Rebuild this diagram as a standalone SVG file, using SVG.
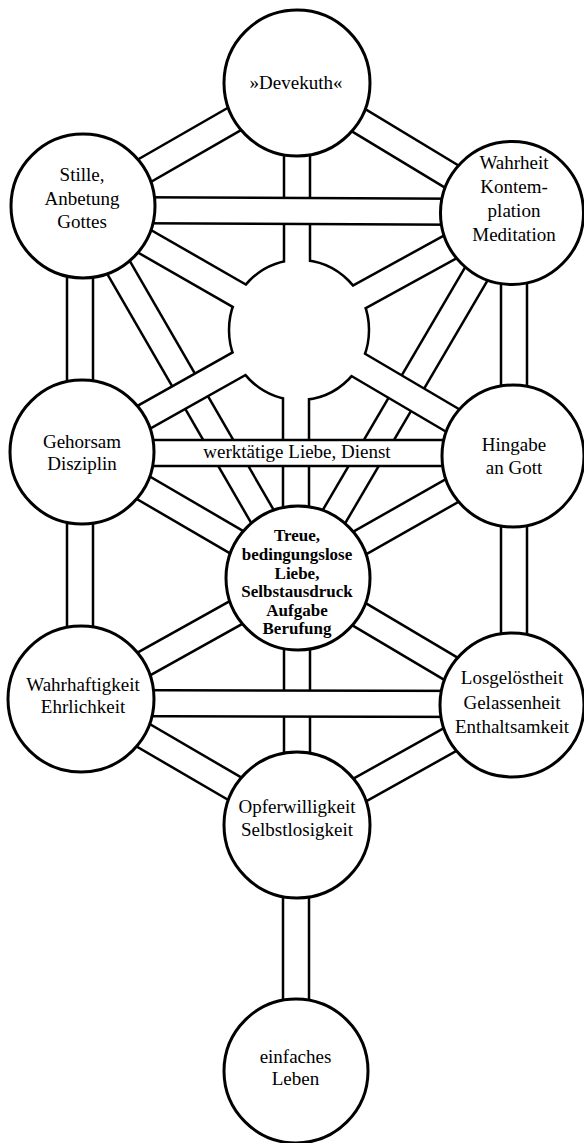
<svg xmlns="http://www.w3.org/2000/svg" xmlns:xlink="http://www.w3.org/1999/xlink" width="584" height="1143" viewBox="0 0 584 1143">
<style>
.rb{stroke:#000;stroke-width:28.5;fill:none}
.rw{stroke:#fff;stroke-width:23.5;fill:none}
.node{fill:#fff;stroke:#000;stroke-width:3}
.hole{fill:#fff;stroke:#000;stroke-width:2.5}
.t{font-family:"Liberation Serif","Times New Roman",serif;font-size:19px;text-anchor:middle;fill:#000}
.tb{font-family:"Liberation Serif","Times New Roman",serif;font-size:17px;font-weight:bold;text-anchor:middle;fill:#000}
</style>
<defs>
<line id="p1" x1="297" y1="83" x2="83" y2="206"/>
<line id="p2" x1="297" y1="83" x2="512" y2="213"/>
<line id="p3" x1="297" y1="83" x2="297" y2="330"/>
<line id="p4" x1="83" y1="210" x2="512" y2="212"/>
<line id="p5" x1="83" y1="206" x2="299" y2="330"/>
<line id="p6" x1="512" y1="213" x2="299" y2="330"/>
<line id="p7" x1="80" y1="206" x2="80" y2="452"/>
<line id="p8" x1="514" y1="213" x2="514" y2="456"/>
<line id="p9" x1="83" y1="206" x2="298" y2="578"/>
<line id="p10" x1="512" y1="213" x2="298" y2="578"/>
<line id="p11" x1="82" y1="452" x2="299" y2="330"/>
<line id="p12" x1="513" y1="456" x2="299" y2="330"/>
<line id="p13" x1="82" y1="453" x2="513" y2="453"/>
<line id="p14" x1="296" y1="330" x2="296" y2="578"/>
<line id="p15" x1="82" y1="452" x2="298" y2="578"/>
<line id="p16" x1="513" y1="456" x2="298" y2="578"/>
<line id="p17" x1="80" y1="452" x2="80" y2="699"/>
<line id="p18" x1="514" y1="456" x2="514" y2="705"/>
<line id="p19" x1="298" y1="578" x2="81" y2="699"/>
<line id="p20" x1="298" y1="578" x2="512" y2="705"/>
<line id="p21" x1="297" y1="578" x2="297" y2="825"/>
<line id="p22" x1="81" y1="703" x2="512" y2="704"/>
<line id="p23" x1="81" y1="699" x2="297" y2="825"/>
<line id="p24" x1="512" y1="705" x2="297" y2="825"/>
<line id="p25" x1="296" y1="825" x2="296" y2="1071"/>
</defs>
<rect width="584" height="1143" fill="#fff"/>
<g id="connectors">
<use xlink:href="#p1" class="rb"/><use xlink:href="#p1" class="rw"/>
<use xlink:href="#p2" class="rb"/><use xlink:href="#p2" class="rw"/>
<use xlink:href="#p7" class="rb"/><use xlink:href="#p7" class="rw"/>
<use xlink:href="#p8" class="rb"/><use xlink:href="#p8" class="rw"/>
<use xlink:href="#p9" class="rb"/><use xlink:href="#p9" class="rw"/>
<use xlink:href="#p10" class="rb"/><use xlink:href="#p10" class="rw"/>
<use xlink:href="#p15" class="rb"/><use xlink:href="#p15" class="rw"/>
<use xlink:href="#p16" class="rb"/><use xlink:href="#p16" class="rw"/>
<use xlink:href="#p17" class="rb"/><use xlink:href="#p17" class="rw"/>
<use xlink:href="#p18" class="rb"/><use xlink:href="#p18" class="rw"/>
<use xlink:href="#p19" class="rb"/><use xlink:href="#p19" class="rw"/>
<use xlink:href="#p20" class="rb"/><use xlink:href="#p20" class="rw"/>
<use xlink:href="#p21" class="rb"/><use xlink:href="#p21" class="rw"/>
<use xlink:href="#p23" class="rb"/><use xlink:href="#p23" class="rw"/>
<use xlink:href="#p24" class="rb"/><use xlink:href="#p24" class="rw"/>
<use xlink:href="#p25" class="rb"/><use xlink:href="#p25" class="rw"/>
<use xlink:href="#p3" class="rb"/>
<use xlink:href="#p5" class="rb"/>
<use xlink:href="#p6" class="rb"/>
<use xlink:href="#p11" class="rb"/>
<use xlink:href="#p12" class="rb"/>
<use xlink:href="#p14" class="rb"/>
<circle id="hole" class="hole" cx="299" cy="330" r="70"/>
<use xlink:href="#p3" class="rw"/>
<use xlink:href="#p5" class="rw"/>
<use xlink:href="#p6" class="rw"/>
<use xlink:href="#p11" class="rw"/>
<use xlink:href="#p12" class="rw"/>
<use xlink:href="#p14" class="rw"/>
<use xlink:href="#p4" class="rb"/><use xlink:href="#p4" class="rw"/>
<use xlink:href="#p13" class="rb"/><use xlink:href="#p13" class="rw"/>
<use xlink:href="#p22" class="rb"/><use xlink:href="#p22" class="rw"/>
<text class="t" x="297" y="458" font-size="19.5">werktätige Liebe, Dienst</text>
</g>
<g id="devekuth"><circle class="node" cx="297" cy="83" r="73"/><text class="t" x="296" y="89">»Devekuth«</text></g>
<g id="stille"><circle class="node" cx="83" cy="206" r="72"/><text class="t" x="82"><tspan x="82" y="181">Stille,</tspan><tspan x="82" y="205">Anbetung</tspan><tspan x="82" y="228">Gottes</tspan></text></g>
<g id="wahrheit"><circle class="node" cx="512" cy="213" r="71.5"/><text class="t"><tspan x="514" y="169">Wahrheit</tspan><tspan x="514" y="193">Kontem-</tspan><tspan x="514" y="217">plation</tspan><tspan x="514" y="241">Meditation</tspan></text></g>
<g id="gehorsam"><circle class="node" cx="82" cy="452" r="72"/><text class="t"><tspan x="82" y="448">Gehorsam</tspan><tspan x="82" y="470">Disziplin</tspan></text></g>
<g id="hingabe"><circle class="node" cx="513" cy="456" r="71"/><text class="t"><tspan x="514" y="451">Hingabe</tspan><tspan x="514" y="474">an Gott</tspan></text></g>
<g id="treue"><circle class="node" cx="298" cy="578" r="72"/><text class="tb"><tspan x="297" y="541">Treue,</tspan><tspan x="297" y="559.5">bedingungslose</tspan><tspan x="297" y="578.5">Liebe,</tspan><tspan x="297" y="597">Selbstausdruck</tspan><tspan x="297" y="615.5">Aufgabe</tspan><tspan x="297" y="634">Berufung</tspan></text></g>
<g id="wahrhaftigkeit"><circle class="node" cx="81" cy="699" r="73"/><text class="t"><tspan x="83" y="691">Wahrhaftigkeit</tspan><tspan x="83" y="713">Ehrlichkeit</tspan></text></g>
<g id="losgeloestheit"><circle class="node" cx="512" cy="705" r="72"/><text class="t"><tspan x="512" y="684">Losgelöstheit</tspan><tspan x="512" y="709">Gelassenheit</tspan><tspan x="512" y="733">Enthaltsamkeit</tspan></text></g>
<g id="opferwilligkeit"><circle class="node" cx="297" cy="825" r="73"/><text class="t"><tspan x="297" y="813">Opferwilligkeit</tspan><tspan x="297" y="836">Selbstlosigkeit</tspan></text></g>
<g id="einfaches-leben"><circle class="node" cx="296" cy="1071" r="72"/><text class="t"><tspan x="295.5" y="1063">einfaches</tspan><tspan x="295.5" y="1085">Leben</tspan></text></g>
</svg>
